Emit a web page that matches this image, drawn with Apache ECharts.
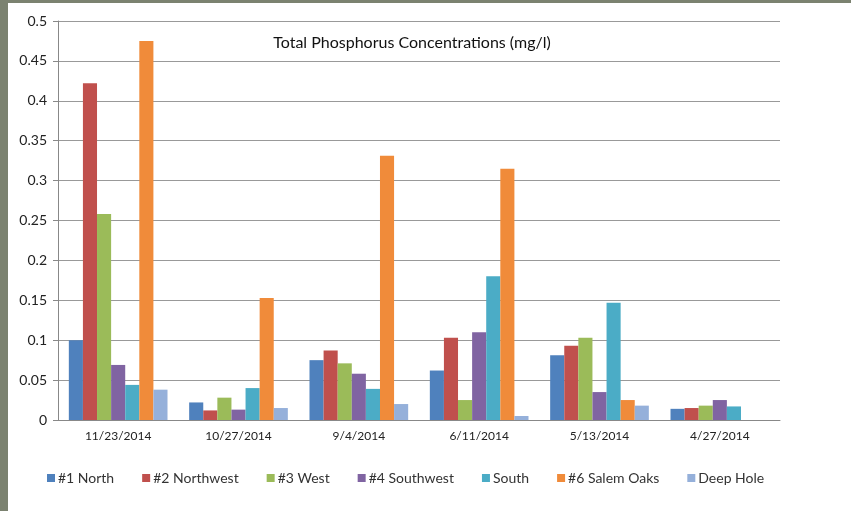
<!DOCTYPE html>
<html>
<head>
<meta charset="utf-8">
<script src="https://cdn.jsdelivr.net/npm/echarts@6/dist/echarts.min.js"></script>
<style>
html,body{margin:0;padding:0;background:#fff;}
#c{width:851px;height:511px;}
</style>
</head>
<body>
<div id="c"></div>
<script>
const categories = ['11/23/2014','10/27/2014','9/4/2014','6/11/2014','5/13/2014','4/27/2014'];
const seriesNames = ['#1 North','#2 Northwest','#3 West','#4 Southwest','South','#6 Salem Oaks','Deep Hole'];
const north     = [0.100, 0.022, 0.075, 0.062, 0.081, 0.014];
const northwest = [0.422, 0.012, 0.087, 0.103, 0.093, 0.015];
const west      = [0.258, 0.028, 0.071, 0.025, 0.103, 0.018];
const southwest = [0.069, 0.013, 0.058, 0.110, 0.035, 0.025];
const south     = [0.044, 0.040, 0.039, 0.180, 0.147, 0.017];
const salemOaks = [0.475, 0.153, 0.331, 0.315, 0.025, null];
const deepHole  = [0.038, 0.015, 0.020, 0.005, 0.018, null];
const yTicks = [0, 0.05, 0.1, 0.15, 0.2, 0.25, 0.3, 0.35, 0.4, 0.45, 0.5];

const values = [north, northwest, west, southwest, south, salemOaks, deepHole];
const colors = ['#4F81BD','#C0504D','#9BBB59','#8064A2','#4BACC6','#F08B3A','#95B0DA'];
const font = 'Lato, "Open Sans", sans-serif';

const chart = echarts.init(document.getElementById('c'));
chart.setOption({
  animation: false,
  backgroundColor: '#ffffff',
  color: colors,
  graphic: [
    {type:'rect', shape:{x:0,y:0,width:8,height:511}, style:{fill:'#7b8270'}, z:100},
    {type:'rect', shape:{x:0,y:0,width:851,height:3}, style:{fill:'#7b8270'}, z:100}
  ],
  title: {
    text: 'Total Phosphorus Concentrations (mg/l)',
    left: 412, top: 35, textAlign: 'center', padding: 0,
    textStyle: {fontFamily: font, fontSize: 16, fontWeight: 'normal', color: '#111'}
  },
  legend: {
    data: seriesNames,
    left: 47, top: 471, padding: 0,
    itemWidth: 8, itemHeight: 8, itemGap: 28,
    icon: 'rect',
    textStyle: {fontFamily: font, fontSize: 14, color: '#333', padding: [0,0,0,-2]}
  },
  grid: {left: 58, right: 71, top: 21, bottom: 91},
  xAxis: {
    type: 'category',
    data: categories,
    axisLine: {lineStyle: {color: '#888'}},
    axisTick: {show: false},
    axisLabel: {fontFamily: font, fontSize: 12, color: '#222', margin: 10}
  },
  yAxis: {
    type: 'value',
    min: 0, max: 0.5, interval: 0.05,
    axisLine: {show: true, lineStyle: {color: '#888'}},
    axisTick: {show: true, length: 5, lineStyle: {color: '#888'}},
    splitLine: {lineStyle: {color: '#999'}},
    axisLabel: {
      fontFamily: font, fontSize: 14, color: '#222', margin: 11,
      formatter: v => { const t = yTicks.find(x => Math.abs(x - v) < 1e-9); return String(t !== undefined ? t : v); }
    }
  },
  series: seriesNames.map((n, i) => ({
    name: n,
    type: 'bar',
    data: values[i],
    barGap: '0%',
    barCategoryGap: '18%',
    itemStyle: {color: colors[i]}
  }))
});
</script>
</body>
</html>
